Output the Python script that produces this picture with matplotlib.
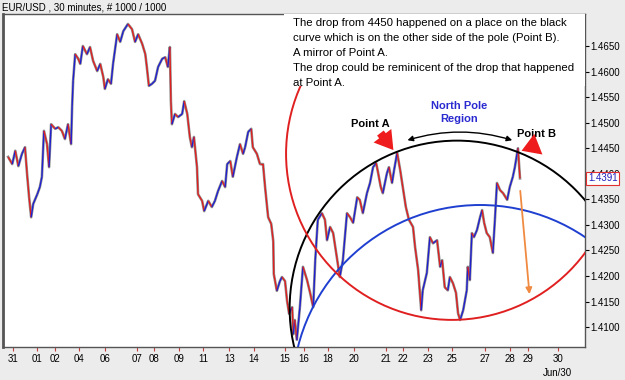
import matplotlib.pyplot as plt
from matplotlib.patches import Ellipse, FancyArrowPatch, Rectangle
from matplotlib.collections import LineCollection
import numpy as np

plt.rcParams['font.family'] = ['Liberation Sans', 'DejaVu Sans']

# EUR/USD 30 min path (bar index, price)
bars = [0, 8, 14, 20, 27, 33, 37, 41, 45, 49, 57, 62, 66, 70, 76, 80, 84, 92, 98, 105,
        111, 117, 123, 125, 127, 131, 137, 141, 146, 154, 160, 166, 174, 180, 186, 189, 195, 201, 205, 213,
        219, 225, 234, 242, 248, 254, 262, 268, 271, 275,
        281, 287, 293, 301, 307, 312, 316, 318, 320, 326, 332, 340, 344, 350, 355, 359, 363, 369, 371, 379,
        383, 391, 398, 404, 410, 418, 424, 428, 434, 439, 447, 453, 459, 463, 469, 475, 478, 486, 492, 498,
        502, 508, 514, 518, 519, 525, 531, 535, 541, 545, 549, 555, 557,
        560, 564, 570, 576, 584, 590, 596, 600, 605, 613, 619, 623, 629, 635, 643, 648, 654, 662, 668, 674,
        682, 687, 693, 701, 707, 713, 719, 723, 728, 732, 740, 744, 750, 754, 760, 766, 771, 777, 783, 791,
        795, 801, 807, 810, 818, 824, 830, 838,
        844, 848, 853, 859, 863, 869, 875, 879, 883, 889, 896, 898, 902, 906, 910, 916, 922, 926, 930, 935,
        941, 947, 951, 955, 961, 967, 975, 980, 986, 990, 996, 1000]
prices = [1.4433, 1.4419, 1.4445, 1.4415, 1.4439, 1.4452, 1.4400, 1.4354, 1.4315, 1.4341,
          1.4360, 1.4374, 1.4394, 1.4484, 1.4458, 1.4413, 1.4497, 1.4488, 1.4491, 1.4484,
          1.4468, 1.4497, 1.4458, 1.4531, 1.4582, 1.4634, 1.4625, 1.4615, 1.4650, 1.4634,
          1.4648, 1.4621, 1.4601, 1.4615, 1.4589, 1.4566, 1.4585, 1.4576, 1.4615, 1.4673,
          1.4658, 1.4679, 1.4693, 1.4683, 1.4658, 1.4673, 1.4654, 1.4634, 1.4609, 1.4572,
          1.4576, 1.4582, 1.4609, 1.4625, 1.4628, 1.4609, 1.4648, 1.4542, 1.4497, 1.4517,
          1.4511, 1.4517, 1.4542, 1.4517, 1.4472, 1.4452, 1.4472, 1.4413, 1.4360, 1.4347,
          1.4327, 1.4347, 1.4335, 1.4347, 1.4366, 1.4386, 1.4374, 1.4419, 1.4425, 1.4394,
          1.4433, 1.4458, 1.4439, 1.4452, 1.4482, 1.4488, 1.4452, 1.4439, 1.4419, 1.4419,
          1.4374, 1.4315, 1.4302, 1.4268, 1.4204, 1.4171, 1.4190, 1.4198, 1.4190, 1.4151,
          1.4126, 1.4139, 1.4086,
          1.4114, 1.4075, 1.4139, 1.4218, 1.4192, 1.4167, 1.4139, 1.4231, 1.4310, 1.4323,
          1.4310, 1.4270, 1.4296, 1.4284, 1.4231, 1.4198, 1.4231, 1.4323, 1.4315, 1.4304,
          1.4354, 1.4349, 1.4323, 1.4362, 1.4382, 1.4413, 1.4421, 1.4401, 1.4374, 1.4362,
          1.4401, 1.4413, 1.4382, 1.4407, 1.4441, 1.4407, 1.4374, 1.4335, 1.4310, 1.4296,
          1.4257, 1.4212, 1.4133, 1.4172, 1.4206, 1.4276, 1.4264, 1.4270,
          1.4218, 1.4231, 1.4178, 1.4172, 1.4198, 1.4186, 1.4167, 1.4127, 1.4114, 1.4133,
          1.4172, 1.4218, 1.4192, 1.4284, 1.4276, 1.4290, 1.4315, 1.4329, 1.4304, 1.4284,
          1.4276, 1.4245, 1.4310, 1.4382, 1.4368, 1.4362, 1.4349, 1.4374, 1.4394, 1.4413,
          1.4450, 1.4391]

last_price = 1.4391

date_pos = [10, 57, 92, 139, 189, 252, 285, 334, 381, 432, 480, 541, 578,
            625, 676, 738, 771, 820, 867, 932, 980, 1016, 1074]
date_lbl = ['31', '01', '02', '04', '06', '07', '08', '09', '11', '13', '14', '15', '16',
            '18', '20', '21', '22', '23', '25', '27', '28', '29', '30\nJun/30']
price_ticks = [1.4100, 1.4150, 1.4200, 1.4250, 1.4300, 1.4350, 1.4400,
               1.4450, 1.4500, 1.4550, 1.4600, 1.4650]

# the three arcs: (centre bar, centre price, width in bars, height in price, colour)
arcs = [(877, 1.4137, 654, 0.06557, 'black'),
        (922, 1.3971, 734, 0.07358, '#1f3fd0'),
        (867, 1.4439, 648, 0.06497, '#e02020')]

fig = plt.figure(figsize=(6.25, 3.8), dpi=100, facecolor='#ececec')
ax = fig.add_axes([3/625, 1 - 347/380, 582/625, 333/380])
ax.set_facecolor('white')

x = np.array(bars)
y = np.array(prices)
segs = np.stack([np.column_stack([x[:-1], y[:-1]]), np.column_stack([x[1:], y[1:]])], axis=1)
cols = ['#2020d0' if b > a else '#e02020' for a, b in zip(y[:-1], y[1:])]
ax.plot(x, y, color='#222222', lw=1.9, alpha=0.5, zorder=2)
ax.add_collection(LineCollection(segs, colors=cols, linewidths=1.0, zorder=3))

for cx, cy, w, h, c in arcs:
    ax.add_patch(Ellipse((cx, cy), w, h, fill=False, edgecolor=c, lw=1.4, zorder=4))

ax.set_xlim(-10, 1127)
ax.set_ylim(1.40611, 1.47126)

ax.yaxis.tick_right()
ax.set_yticks(price_ticks)
ax.set_yticklabels(['%.4f' % p for p in price_ticks], fontsize=7)
ax.tick_params(axis='y', length=3, width=0.8, pad=1, colors='black')
ax.set_xticks(date_pos)
ax.set_xticklabels(date_lbl, fontsize=7, linespacing=1.55, va='top')
ax.tick_params(axis='x', length=3, width=0.8, color='#c04040', pad=2)
for s in ax.spines.values():
    s.set_color('#555555')
    s.set_linewidth(1.0)
ax.spines['left'].set_linewidth(2)

# annotation box (white background hides the top of the red arc)
ax.add_patch(Rectangle((0.482, 0.785), 0.518, 0.215, transform=ax.transAxes,
                       facecolor='white', edgecolor='none', zorder=6))
ax.text(0.4985, 0.987,
        'The drop from 4450 happened on a place on the black\n'
        'curve which is on the other side of the pole (Point B).\n'
        'A mirror of Point A.\n'
        'The drop could be reminicent of the drop that happened\n'
        'at Point A.',
        transform=ax.transAxes, ha='left', va='top', fontsize=8.2, linespacing=1.6, zorder=7)
ax.text(707, 1.4497, 'Point A', ha='center', va='center', fontsize=8, fontweight='bold', zorder=7)
ax.text(881, 1.4520, 'North Pole\nRegion', ha='center', va='center', fontsize=8,
        fontweight='bold', color='#2a2ad0', linespacing=1.3, zorder=7)
ax.text(994, 1.4478, 'Point B', ha='left', va='center', fontsize=8, fontweight='bold', zorder=7)

ax.add_patch(FancyArrowPatch((775, 1.4464), (990, 1.4464), arrowstyle='<|-|>',
                             connectionstyle='arc3,rad=-0.16', mutation_scale=8,
                             color='black', lw=1.0, zorder=7))
ax.add_patch(FancyArrowPatch((724, 1.4484), (756, 1.4442), arrowstyle='simple,head_width=1.6,head_length=1.3,tail_width=0.6',
                             mutation_scale=10, color='#ee1c1c', lw=0, zorder=8))
ax.add_patch(FancyArrowPatch((1036, 1.4458), (998, 1.4443), arrowstyle='simple,head_width=1.6,head_length=1.3,tail_width=0.6',
                             mutation_scale=10, color='#ee1c1c', lw=0, zorder=8))
ax.add_patch(FancyArrowPatch((1000, 1.4372), (1019, 1.4159), arrowstyle='-|>',
                             mutation_scale=9, color='#f08a40', lw=1.3, zorder=7))

ax.text(1.005, last_price, '%.4f' % last_price, transform=ax.get_yaxis_transform(),
        ha='left', va='center', fontsize=7, color='#2020c0', clip_on=False,
        bbox=dict(facecolor='white', edgecolor='#e03030', pad=1.2, lw=0.8), zorder=10)

fig.text(2/625, 1 - 7/380, 'EUR/USD , 30 minutes, # 1000 / 1000', fontsize=7,
         ha='left', va='center')

fig.savefig('out.png', dpi=100, facecolor=fig.get_facecolor())
